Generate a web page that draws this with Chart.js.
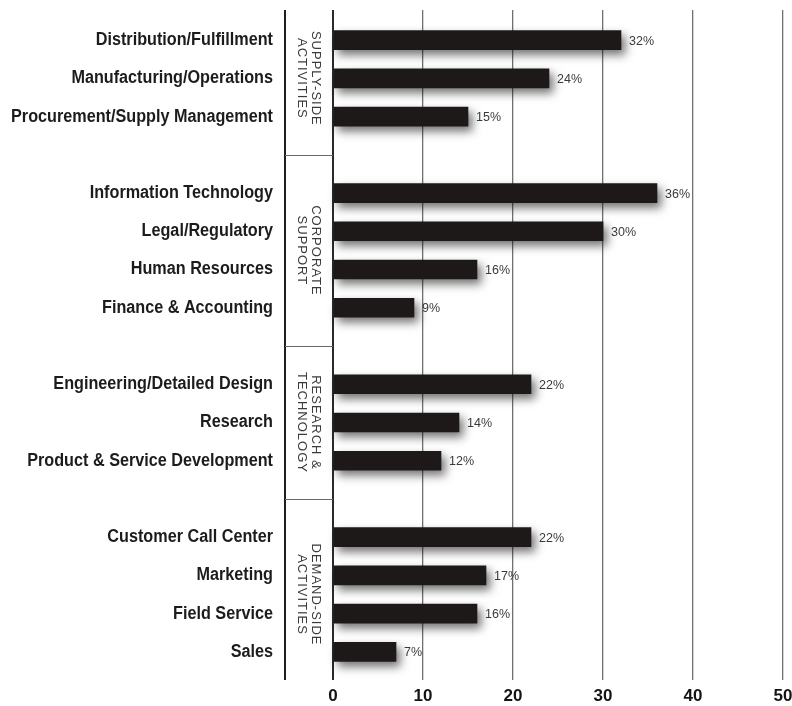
<!DOCTYPE html>
<html>
<head>
<meta charset="utf-8">
<script src="https://cdn.jsdelivr.net/npm/chart.js@4/dist/chart.umd.min.js"></script>
<style>
  html, body { margin: 0; padding: 0; background: #ffffff; }
  #wrap { position: relative; width: 792px; height: 706px; }
</style>
</head>
<body>
<div id="wrap"><canvas id="chart"></canvas></div>
<script>
// Share of respondents by business function, in four activity groups
const groupTitles = [
  ['SUPPLY-SIDE', 'ACTIVITIES'],
  ['CORPORATE', 'SUPPORT'],
  ['RESEARCH &', 'TECHNOLOGY'],
  ['DEMAND-SIDE', 'ACTIVITIES']
];
const supplySide = ['Distribution/Fulfillment', 'Manufacturing/Operations', 'Procurement/Supply Management'];
const corporate = ['Information Technology', 'Legal/Regulatory', 'Human Resources', 'Finance & Accounting'];
const research = ['Engineering/Detailed Design', 'Research', 'Product & Service Development'];
const demandSide = ['Customer Call Center', 'Marketing', 'Field Service', 'Sales'];

const supplyValues = [32, 24, 15];
const corporateValues = [36, 30, 16, 9];
const researchValues = [22, 14, 12];
const demandValues = [22, 17, 16, 7];

const xTicks = [0, 10, 20, 30, 40, 50];

// Flatten the groups, leaving one empty row between consecutive groups
const groupCats = [supplySide, corporate, research, demandSide];
const groupVals = [supplyValues, corporateValues, researchValues, demandValues];
const labels = [];
const values = [];
const groupRanges = [];
const gapRows = [];
groupCats.forEach((cats, g) => {
  if (g > 0) { gapRows.push(labels.length); labels.push(''); values.push(null); }
  const start = labels.length;
  cats.forEach((c, i) => { labels.push(c); values.push(groupVals[g][i]); });
  groupRanges.push([start, labels.length - 1]);
});

const PLAIN_FONT = '"Liberation Sans", Arial, Helvetica, sans-serif';
const AXIS_X = 333;     // left edge of the plot
const FRAME_X = 285;    // outer rule left of the group column
const LABEL_RIGHT = 273; // right edge of the category names
const CONDENSE = 0.9;   // horizontal squeeze for the condensed bold labels

const gridColor = ctx => (ctx.tick && ctx.tick.value === 0) ? '#2a2a2a' : '#707070';
const gridWidth = ctx => (ctx.tick && ctx.tick.value === 0) ? 2 : 1.3;

// Soft drop shadow under the bars
const barShadow = {
  id: 'barShadow',
  beforeDatasetsDraw(chart) {
    const c = chart.ctx;
    c.save();
    c.shadowColor = 'rgba(0,0,0,0.55)';
    c.shadowBlur = 10;
    c.shadowOffsetX = 4;
    c.shadowOffsetY = 5;
  },
  afterDatasetsDraw(chart) {
    chart.ctx.restore();
  }
};

// Percentage labels at the end of each bar
const valueLabels = {
  id: 'valueLabels',
  afterDatasetsDraw(chart) {
    const c = chart.ctx;
    const meta = chart.getDatasetMeta(0);
    const data = chart.data.datasets[0].data;
    c.save();
    c.font = '12.5px ' + PLAIN_FONT;
    c.fillStyle = '#3a3a3a';
    c.textAlign = 'left';
    c.textBaseline = 'middle';
    meta.data.forEach((bar, i) => {
      const v = data[i];
      if (v === null || v === undefined) return;
      c.fillText(v + '%', bar.x + 8, bar.y + 1);
    });
    c.restore();
  }
};

// Condensed bold category names at the y-axis tick positions
const categoryLabels = {
  id: 'categoryLabels',
  afterDraw(chart) {
    const c = chart.ctx;
    const y = chart.scales.y;
    c.save();
    c.font = 'bold 18px ' + PLAIN_FONT;
    c.fillStyle = '#1c1c1c';
    c.textAlign = 'right';
    c.textBaseline = 'middle';
    y.ticks.forEach((t, i) => {
      const name = y.getLabelForValue(t.value);
      if (!name) return;
      c.save();
      c.translate(LABEL_RIGHT, y.getPixelForTick(i));
      c.scale(CONDENSE, 1);
      c.fillText(name, 0, 0);
      c.restore();
    });
    c.restore();
  }
};

// Group column: outer rule, separators and rotated group titles
const groupColumn = {
  id: 'groupColumn',
  afterDraw(chart) {
    const c = chart.ctx;
    const y = chart.scales.y;
    const top = chart.scales.x2.top;
    const bottom = chart.scales.x.top + chart.options.scales.x.grid.tickLength;
    c.save();
    c.strokeStyle = '#1e1e1e';
    c.lineWidth = 2;
    c.beginPath();
    c.moveTo(FRAME_X, top);
    c.lineTo(FRAME_X, bottom);
    c.stroke();

    c.strokeStyle = '#6a6a6a';
    c.lineWidth = 1;
    gapRows.forEach(r => {
      const py = Math.round(y.getPixelForValue(r)) + 0.5;
      c.beginPath();
      c.moveTo(FRAME_X, py);
      c.lineTo(AXIS_X, py);
      c.stroke();
    });

    c.fillStyle = '#3a3a3a';
    c.font = '13px ' + PLAIN_FONT;
    c.textAlign = 'center';
    c.textBaseline = 'middle';
    if ('letterSpacing' in c) c.letterSpacing = '1px';
    const cx = (FRAME_X + AXIS_X) / 2;
    groupRanges.forEach((range, g) => {
      const cy = (y.getPixelForValue(range[0]) + y.getPixelForValue(range[1])) / 2;
      c.save();
      c.translate(cx, cy);
      c.rotate(Math.PI / 2);
      c.fillText(groupTitles[g][0], 0, -7);
      c.fillText(groupTitles[g][1], 0, 7);
      c.restore();
    });
    c.restore();
  }
};

new Chart(document.getElementById('chart'), {
  type: 'bar',
  data: {
    labels: labels,
    datasets: [{
      data: values,
      backgroundColor: '#1d1919',
      borderWidth: 0,
      barThickness: 19,
      clip: false
    }]
  },
  options: {
    indexAxis: 'y',
    responsive: true,
    maintainAspectRatio: false,
    animation: false,
    layout: { padding: { top: 10, right: 9, bottom: 0, left: 0 } },
    plugins: {
      legend: { display: false },
      tooltip: { enabled: false }
    },
    scales: {
      x: {
        type: 'linear',
        position: 'bottom',
        min: xTicks[0],
        max: xTicks[xTicks.length - 1],
        afterBuildTicks: s => { s.ticks = xTicks.map(v => ({ value: v })); },
        afterFit: s => {
          s.height = 35;
          s.paddingLeft = 0;
          s.paddingRight = 0;
        },
        border: { display: false },
        grid: { color: gridColor, lineWidth: gridWidth, tickLength: 9, drawTicks: true },
        ticks: {
          padding: 6,
          color: '#141414',
          font: { family: PLAIN_FONT, size: 17, weight: 'bold' }
        }
      },
      x2: {
        type: 'linear',
        position: 'top',
        min: xTicks[0],
        max: xTicks[xTicks.length - 1],
        afterBuildTicks: s => { s.ticks = xTicks.map(v => ({ value: v })); },
        afterFit: s => {
          s.height = 11;
          s.paddingLeft = 0;
          s.paddingRight = 0;
        },
        border: { display: false },
        grid: { color: gridColor, lineWidth: gridWidth, tickLength: 11, drawOnChartArea: false, drawTicks: true },
        ticks: { display: false }
      },
      y: {
        type: 'category',
        position: 'left',
        afterFit: s => {
          s.width = AXIS_X;
          s.paddingTop = 0;
          s.paddingBottom = 0;
        },
        border: { display: false },
        grid: { display: false, drawTicks: false },
        ticks: { display: false, autoSkip: false }
      }
    }
  },
  plugins: [barShadow, valueLabels, categoryLabels, groupColumn]
});
</script>
</body>
</html>
